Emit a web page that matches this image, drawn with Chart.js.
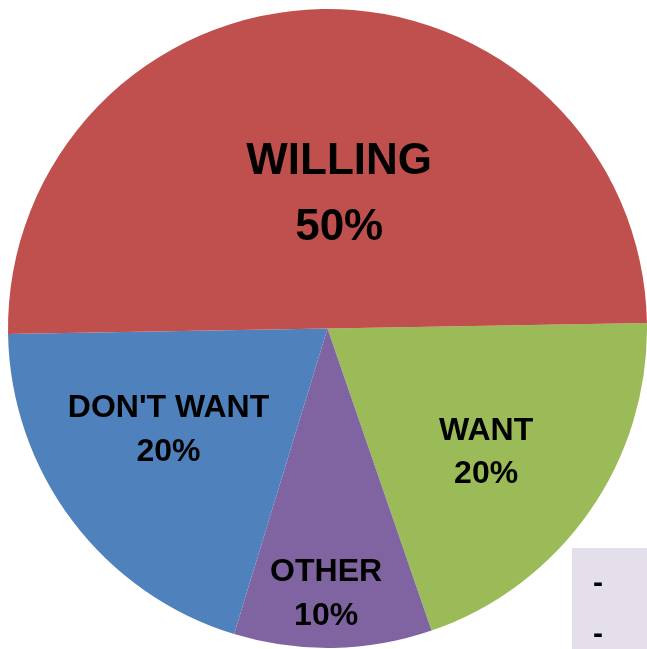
<!DOCTYPE html>
<html>
<head>
<meta charset="utf-8">
<script src="https://cdn.jsdelivr.net/npm/chart.js@4.4.1/dist/chart.umd.min.js"></script>
<style>
  html, body { margin: 0; padding: 0; background: #fff; }
  #myChart { display: block; }
</style>
</head>
<body>
<canvas id="myChart" width="647" height="649"></canvas>
<script>
// pie of attitudes, order runs clockwise from the right side
var label = ['WANT', 'OTHER', "DON'T WANT", 'WILLING'];
var data = [20, 10, 20, 50];
var color = ['#9BBB59', '#8064A2', '#4F81BD', '#C0504D'];
var legendText = ['-', '-'];

// where each label sits: angle in degrees (0 = right, clockwise) and distance as part of radius
var labelSpot = [[38, 0.63], [90.3, 0.83], [147.5, 0.59], [-85, 0.42]];
var labelFont = [32, 32, 32, 44];
var lineGap = [43, 44, 44, 66];

var sliceLabels = {
    id: 'sliceLabels',
    afterDatasetsDraw: function(chart) {
        var ctx = chart.ctx;
        var arc = chart.getDatasetMeta(0).data[0];
        var cx = arc.x, cy = arc.y, r = arc.outerRadius;
        ctx.save();
        ctx.fillStyle = '#000';
        ctx.textAlign = 'center';
        ctx.textBaseline = 'middle';
        for (var i = 0; i < label.length; i++) {
            var a = labelSpot[i][0] * Math.PI / 180;
            var x = cx + Math.cos(a) * r * labelSpot[i][1];
            var y = cy + Math.sin(a) * r * labelSpot[i][1];
            ctx.font = 'bold ' + labelFont[i] + 'px "Liberation Sans", Arial, sans-serif';
            ctx.fillText(label[i], x, y - lineGap[i] / 2);
            ctx.fillText(data[i] + '%', x, y + lineGap[i] / 2);
        }
        ctx.restore();
    }
};

// empty legend box in the corner
var cornerBox = {
    id: 'cornerBox',
    afterDraw: function(chart) {
        var ctx = chart.ctx;
        ctx.save();
        ctx.fillStyle = '#E5DFEC';
        ctx.fillRect(572, 548, 75, 101);
        ctx.fillStyle = '#000';
        ctx.font = 'bold 30px "Liberation Sans", Arial, sans-serif';
        ctx.textAlign = 'center';
        ctx.textBaseline = 'middle';
        ctx.fillText(legendText[0], 598, 584);
        ctx.fillText(legendText[1], 598, 635);
        ctx.restore();
    }
};

var ctx = document.getElementById('myChart').getContext('2d');
var myChart = new Chart(ctx, {
    type: 'pie',
    data: {
        labels: label,
        datasets: [{
            data: data,
            backgroundColor: color,
            borderWidth: 0
        }]
    },
    options: {
        responsive: false,
        animation: false,
        rotation: 89,
        layout: { padding: { left: 8, right: 0, top: 8, bottom: 0 } },
        plugins: {
            legend: { display: false },
            tooltip: { enabled: false }
        }
    },
    plugins: [sliceLabels, cornerBox]
});
</script>
</body>
</html>
